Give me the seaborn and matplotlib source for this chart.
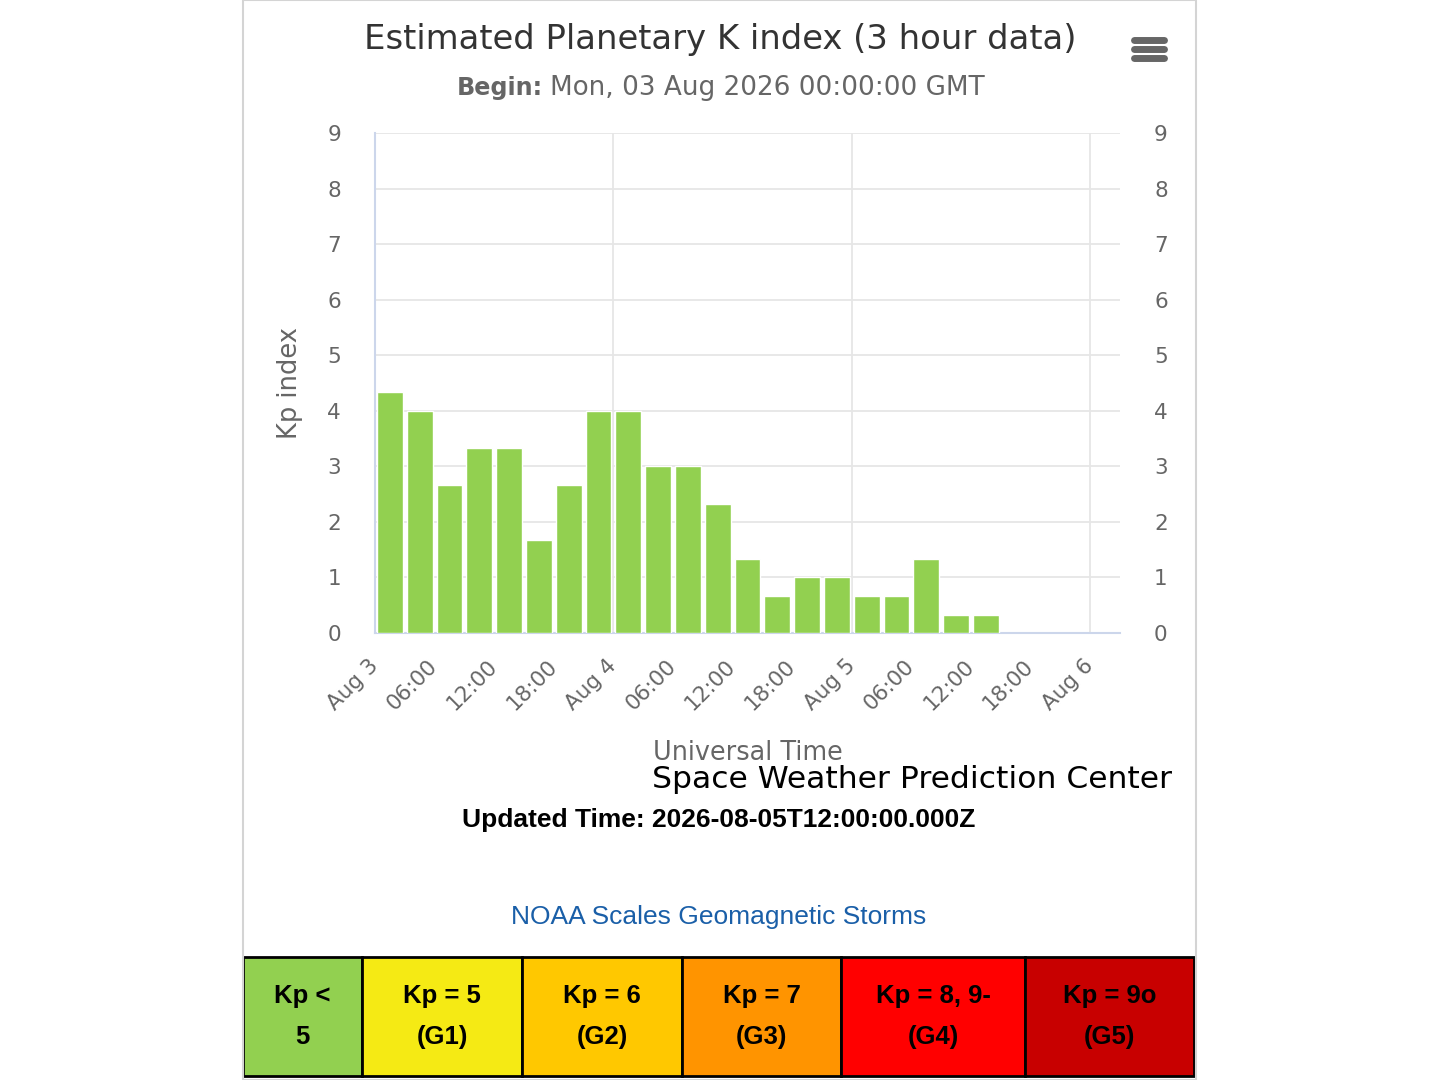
import numpy as np
import pandas as pd
import matplotlib
matplotlib.use("Agg")
import matplotlib.pyplot as plt
from matplotlib.patches import Rectangle
from matplotlib.lines import Line2D
import seaborn as sns

# 3-hour Kp values from Mon 03 Aug 2026 00:00 UTC
kp_values = [4.33, 4.0, 2.67, 3.33, 3.33, 1.67, 2.67, 4.0, 4.0, 3.0, 3.0,
             2.33, 1.33, 0.67, 1.0, 1.0, 0.67, 0.67, 1.33, 0.33, 0.33]
bin_hours = 3
tick_labels = ["Aug 3", "06:00", "12:00", "18:00",
               "Aug 4", "06:00", "12:00", "18:00",
               "Aug 5", "06:00", "12:00", "18:00", "Aug 6"]
day_lines = [24, 48, 72]

scale_labels = ["Kp <\n5", "Kp = 5\n(G1)", "Kp = 6\n(G2)", "Kp = 7\n(G3)",
                "Kp = 8, 9-\n(G4)", "Kp = 9o\n(G5)"]
scale_colors = ["#92d050", "#f5ea14", "#ffc800", "#ff9400", "#ff0000", "#c80000"]
scale_widths = [119, 160, 160, 159, 184, 169]

W, H = 1440, 1080


def fx(x):
    return x / W


def fy(y):
    return 1 - y / H


df = pd.DataFrame({
    "hour": [bin_hours * i + bin_hours / 2 for i in range(len(kp_values))],
    "kp": kp_values,
})

sns.set_style("white")
plt.rcParams["font.family"] = ["DejaVu Sans"]

fig = plt.figure(figsize=(W / 100, H / 100), dpi=100)
fig.patch.set_facecolor("white")

# panel border
fig.patches.append(Rectangle((fx(243), fy(1080)), fx(1196) - fx(243), fy(0) - fy(1080),
                             transform=fig.transFigure, fill=False,
                             edgecolor="#d4d4d4", linewidth=1.5))

ax = fig.add_axes([fx(375), fy(633), fx(1120) - fx(375), fy(133) - fy(633)])

sns.barplot(data=df, x="hour", y="kp", native_scale=True, color="#92d050",
            saturation=1, width=0.86, errorbar=None, edgecolor="white",
            linewidth=1, ax=ax)

ax.set_xlim(0, 75)
ax.set_ylim(0, 9)
ax.set_xticks(np.arange(0, 73, 6))
ax.set_xticklabels(tick_labels, rotation=45, ha="right", va="center",
                   rotation_mode="anchor")
ax.set_yticks(range(0, 10))

ax.set_axisbelow(True)
ax.yaxis.grid(True, color="#e6e6e6", linewidth=1.3)
ax.xaxis.grid(False)
for d in day_lines:
    ax.axvline(d, color="#e6e6e6", linewidth=1.3, zorder=0.5)

for side in ["top", "right"]:
    ax.spines[side].set_visible(False)
for side in ["left", "bottom"]:
    ax.spines[side].set_color("#ccd6eb")
    ax.spines[side].set_linewidth(1.5)
ax.spines["bottom"].set_zorder(0.6)

ax.tick_params(axis="x", which="major", direction="out", length=7.5, width=1.5,
               color="#ccd6eb", labelcolor="#666666", labelsize=15.5, pad=14)
ax.tick_params(axis="y", left=False, right=False, labelleft=True, labelright=True,
               labelcolor="#666666", labelsize=15.5, pad=21)
ax.set_xlabel("")
ax.set_ylabel("")

fig.text(fx(290), fy(383), "Kp index", rotation=90, ha="center", va="center",
         color="#666666", fontsize=18.5)

# titles
fig.text(fx(720), fy(39), "Estimated Planetary K index (3 hour data)",
         ha="center", va="center", color="#333333", fontsize=24.4)
fig.text(fx(457), fy(88), "Begin:", ha="left", va="center", color="#666666",
         fontsize=17.2, weight="bold")
fig.text(fx(550), fy(88), "Mon, 03 Aug 2026 00:00:00 GMT", ha="left",
         va="center", color="#666666", fontsize=18.9)

# hamburger menu
for yy in [40, 49, 58]:
    fig.lines.append(Line2D([fx(1134), fx(1164)], [fy(yy), fy(yy)],
                            transform=fig.transFigure, color="#666666",
                            linewidth=5, solid_capstyle="round"))

fig.text(fx(748), fy(753), "Universal Time", ha="center", va="center",
         color="#666666", fontsize=18.4)
fig.text(fx(1172), fy(779), "Space Weather Prediction Center", ha="right",
         va="center", color="black", fontsize=22.6)
fig.text(fx(719), fy(820), "Updated Time: 2026-08-05T12:00:00.000Z",
         ha="center", va="center", color="black", fontsize=19,
         family="Liberation Sans", weight="bold")
fig.text(fx(719), fy(917), "NOAA Scales Geomagnetic Storms", ha="center",
         va="center", color="#1a5fa8", fontsize=19, family="Liberation Sans")

# NOAA scale table
tab = fig.add_axes([fx(243), fy(1076), fx(1194) - fx(243), fy(957) - fy(1076)])
tab.set_xlim(0, sum(scale_widths))
tab.set_ylim(0, 1)
tab.axis("off")
left = 0
for label, color, w in zip(scale_labels, scale_colors, scale_widths):
    tab.add_patch(Rectangle((left, 0), w, 1, facecolor=color, edgecolor="black",
                            linewidth=2, clip_on=False))
    tab.text(left + w / 2, 0.5, label, ha="center", va="center", fontsize=18.5,
             weight="bold", family="Liberation Sans", linespacing=1.85,
             color="black")
    left += w

fig.savefig("out.png", dpi=100, facecolor="white")
